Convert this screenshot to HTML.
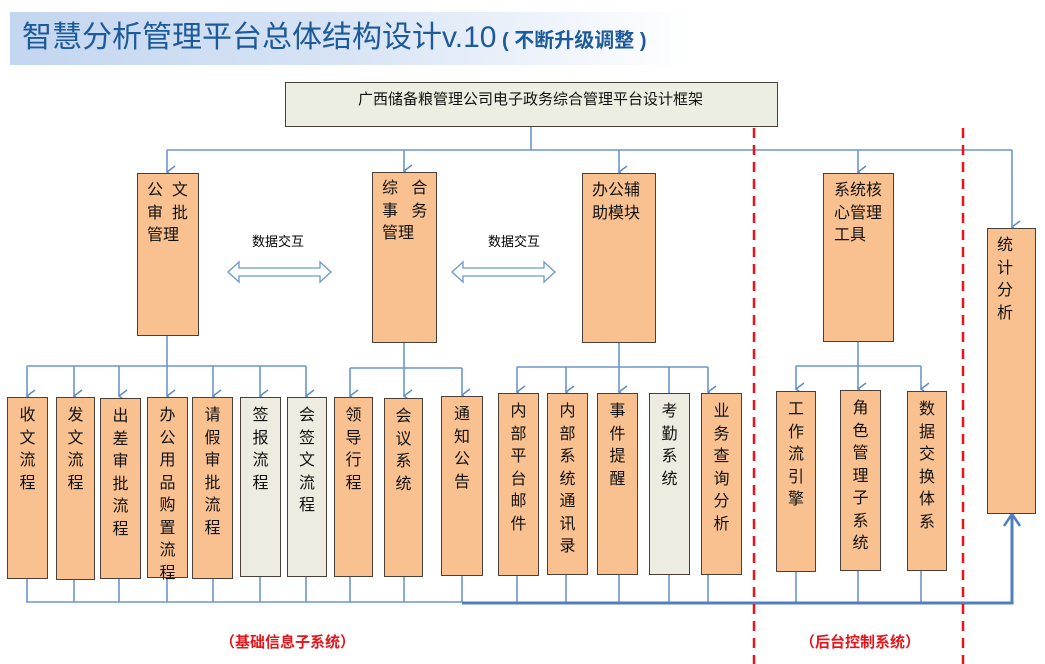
<!DOCTYPE html>
<html><head><meta charset="utf-8"><style>
body{margin:0;width:1045px;height:664px;position:relative;background:#fff;overflow:hidden;font-family:"Liberation Sans","Noto Sans CJK SC",sans-serif;}
.b{position:absolute;background:#f9c18f;border:1.5px solid #4a4038;box-sizing:border-box;color:#111;font-size:16px;line-height:22.5px;}
.g{background:#eeece1;}
.v{padding:7px 0 0 0;text-align:center;}
.t{position:absolute;white-space:nowrap;}
svg{position:absolute;left:0;top:0;}
</style></head><body>
<div style="position:absolute;left:10px;top:12px;width:680px;height:53px;background:linear-gradient(90deg,#c3d6f0 0%,#d8e4f5 50%,#ffffff 100%);"></div>
<div class="t" style="left:22px;top:20px;font-size:30px;color:#1d5a9a;line-height:36px;">智慧分析管理平台总体结构设计v.10<span style="font-size:20px;font-weight:bold;color:#1d5a9a;"> ( 不断升级调整 )</span></div>

<div class="b" style="left:285px;top:82px;width:493px;height:45px;background:#ebeee0;font-size:15px;line-height:20px;padding:7px 0 0 72px;">广西储备粮管理公司电子政务综合管理平台设计框架</div>

<svg width="1045" height="664">
<defs>
<marker id="a" markerWidth="14" markerHeight="10" refX="7" refY="9" orient="auto" markerUnits="userSpaceOnUse" viewBox="0 0 14 10"><path d="M1,1 L7,9 L13,1" fill="none" stroke="#5b8bc9" stroke-width="1.5"/></marker>
</defs>
<g stroke="#6a96cf" stroke-width="1.6" fill="none">
<path d="M531,127 V150 M167,150 H1012"/>
<path d="M167,150 V172" marker-end="url(#a)"/>
<path d="M404,150 V171" marker-end="url(#a)"/>
<path d="M619,150 V172" marker-end="url(#a)"/>
<path d="M858,150 V172" marker-end="url(#a)"/>
<path d="M1012,150 V227" marker-end="url(#a)"/>
<path d="M167,335 V366 M27,366 H306"/>
<path d="M27,366 V396" marker-end="url(#a)"/>
<path d="M74,366 V396" marker-end="url(#a)"/>
<path d="M119,366 V396" marker-end="url(#a)"/>
<path d="M167,366 V396" marker-end="url(#a)"/>
<path d="M213,366 V396" marker-end="url(#a)"/>
<path d="M260,366 V396" marker-end="url(#a)"/>
<path d="M306,366 V396" marker-end="url(#a)"/>
<path d="M404,342 V368 M350,368 H462"/>
<path d="M350,368 V396" marker-end="url(#a)"/>
<path d="M404,368 V396" marker-end="url(#a)"/>
<path d="M462,368 V395" marker-end="url(#a)"/>
<path d="M619,342 V367 M517,367 H708 M669,367 V393"/>
<path d="M517,367 V392" marker-end="url(#a)"/>
<path d="M566,367 V392" marker-end="url(#a)"/>
<path d="M619,367 V392" marker-end="url(#a)"/>
<path d="M708,367 V392" marker-end="url(#a)"/>
<path d="M858,341 V366 M796,366 H921"/>
<path d="M796,366 V389" marker-end="url(#a)"/>
<path d="M858,366 V389" marker-end="url(#a)"/>
<path d="M921,366 V389" marker-end="url(#a)"/>
<path d="M27,578 V602 H462 M74,578V602 M119,578V602 M167,576V602 M213,578V602 M260,576V602 M306,576V602 M350,576V602 M404,576V602 M462,575V602"/>
<path d="M517,575V603 M566,575V603 M619,574V603 M669,574V603 M708,574V603 M796,571V603 M858,570V603 M921,570V603"/>
</g>
<path d="M462,603 H1012 V515" stroke="#4f7fc0" stroke-width="3" fill="none"/>
<path d="M1004,526 L1012,514 L1020,526" stroke="#4f7fc0" stroke-width="2.5" fill="none"/>
<g stroke="#e8141a" stroke-width="2.5" stroke-dasharray="10,7">
<path d="M754,128 V664"/><path d="M963,128 V664"/>
</g>
<g fill="#fff" stroke="#6a96cf" stroke-width="1.3">
<path d="M228,272 L239,262 V268 H320 V262 L331,272 L320,282 V276 H239 V282 Z"/>
<path d="M452,272 L463,262 V268 H544 V262 L555,272 L544,282 V276 H463 V282 Z"/>
</g>
</svg>
<div class="t" style="left:252px;top:231px;font-size:13px;">数据交互</div>
<div class="t" style="left:488px;top:231px;font-size:13px;">数据交互</div>

<div class="b" style="left:137px;top:173px;width:62px;height:163px;padding:6px 0 0 9px;">公&nbsp;&nbsp;文<br>审&nbsp;&nbsp;批<br>管理</div>
<div class="b" style="left:372px;top:172px;width:65px;height:171px;padding:5px 0 0 9px;">综&nbsp;&nbsp;&nbsp;合<br>事&nbsp;&nbsp;&nbsp;务<br>管理</div>
<div class="b" style="left:582px;top:173px;width:74px;height:170px;padding:6px 0 0 9px;">办公辅<br>助模块</div>
<div class="b" style="left:823px;top:173px;width:71px;height:169px;padding:6px 0 0 10px;">系统核<br>心管理<br>工具</div>
<div class="b" style="left:987px;top:228px;width:49px;height:286px;padding:6px 0 0 9px;">统<br>计<br>分<br>析</div>

<div class="b v" style="left:7px;top:397px;width:41px;height:182px;">收<br>文<br>流<br>程</div>
<div class="b v" style="left:56px;top:397px;width:39px;height:183px;">发<br>文<br>流<br>程</div>
<div class="b v" style="left:100px;top:398px;width:41px;height:181px;">出<br>差<br>审<br>批<br>流<br>程</div>
<div class="b v" style="left:147px;top:397px;width:41px;height:181px;">办<br>公<br>用<br>品<br>购<br>置<br>流<br>程</div>
<div class="b v" style="left:192px;top:397px;width:41px;height:182px;">请<br>假<br>审<br>批<br>流<br>程</div>
<div class="b v g" style="left:240px;top:397px;width:41px;height:180px;">签<br>报<br>流<br>程</div>
<div class="b v g" style="left:287px;top:397px;width:40px;height:180px;">会<br>签<br>文<br>流<br>程</div>
<div class="b v" style="left:334px;top:397px;width:39px;height:180px;">领<br>导<br>行<br>程</div>
<div class="b v" style="left:384px;top:398px;width:39px;height:179px;">会<br>议<br>系<br>统</div>
<div class="b v" style="left:441px;top:396px;width:42px;height:180px;">通<br>知<br>公<br>告</div>
<div class="b v" style="left:498px;top:393px;width:41px;height:183px;">内<br>部<br>平<br>台<br>邮<br>件</div>
<div class="b v" style="left:547px;top:393px;width:41px;height:182px;">内<br>部<br>系<br>统<br>通<br>讯<br>录</div>
<div class="b v" style="left:597px;top:393px;width:41px;height:182px;">事<br>件<br>提<br>醒</div>
<div class="b v g" style="left:649px;top:393px;width:41px;height:182px;">考<br>勤<br>系<br>统</div>
<div class="b v" style="left:701px;top:393px;width:41px;height:182px;">业<br>务<br>查<br>询<br>分<br>析</div>
<div class="b v" style="left:776px;top:391px;width:40px;height:181px;">工<br>作<br>流<br>引<br>擎</div>
<div class="b v" style="left:840px;top:390px;width:41px;height:181px;">角<br>色<br>管<br>理<br>子<br>系<br>统</div>
<div class="b v" style="left:907px;top:391px;width:40px;height:180px;">数<br>据<br>交<br>换<br>体<br>系</div>

<div class="t" style="left:220px;top:631px;font-size:15px;font-weight:bold;color:#e8141a;">（基础信息子系统）</div>
<div class="t" style="left:800px;top:631px;font-size:15px;font-weight:bold;color:#e8141a;">（后台控制系统）</div>
</body></html>
